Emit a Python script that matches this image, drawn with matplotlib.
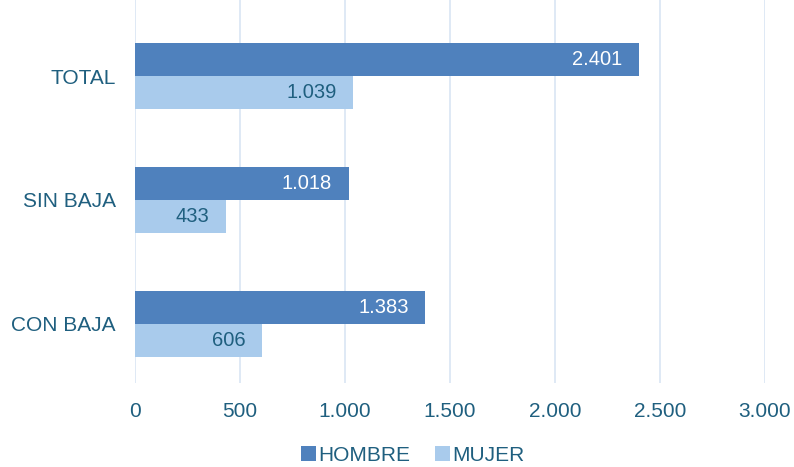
import matplotlib.pyplot as plt
import numpy as np

categories = ["TOTAL", "SIN BAJA", "CON BAJA"]
hombre = [2401, 1018, 1383]
mujer = [1039, 433, 606]
xticks = [0, 500, 1000, 1500, 2000, 2500, 3000]

c_h = "#4F81BD"
c_m = "#A9CBEC"
c_txt = "#1F5F7F"


def fmt(v):
    return f"{v:,}".replace(",", ".")


plt.rcParams['font.family'] = ['Liberation Sans', 'DejaVu Sans']

fig = plt.figure(figsize=(7.94, 4.67), dpi=100)
ax = fig.add_axes([135 / 794, 84 / 467, 630 / 794, 383 / 467])

y = np.arange(len(categories))[::-1].astype(float)
h = 0.27
bh = ax.barh(y + h / 2, hombre, height=h, color=c_h, label="HOMBRE", zorder=3)
bm = ax.barh(y - h / 2, mujer, height=h, color=c_m, label="MUJER", zorder=3)

for bar, v in zip(bh, hombre):
    ax.annotate(fmt(v), (v, bar.get_y() + bar.get_height() / 2), xytext=(-12, 0),
                textcoords="offset points", ha="right", va="center",
                color="white", fontsize=14.5, zorder=4)
for bar, v in zip(bm, mujer):
    ax.annotate(fmt(v), (v, bar.get_y() + bar.get_height() / 2), xytext=(-12, 0),
                textcoords="offset points", ha="right", va="center",
                color=c_txt, fontsize=14.5, zorder=4)

ax.set_xlim(0, 3000)
ax.set_ylim(-0.476, 2.613)
ax.set_xticks(xticks)
ax.set_xticklabels([fmt(v) for v in xticks])
ax.set_yticks(y)
ax.set_yticklabels(categories)
ax.tick_params(axis="both", length=0, colors=c_txt, labelsize=15)
ax.tick_params(axis="y", pad=14)
ax.tick_params(axis="x", pad=14)
ax.grid(axis="x", color="#D9E5F3", linewidth=1.2, zorder=0)
for s in ax.spines.values():
    s.set_visible(False)

fig.legend(loc="lower center", bbox_to_anchor=(0.52, -0.035), ncol=2, frameon=False,
           fontsize=15, labelcolor=c_txt, handlelength=0.7, handleheight=0.7,
           handletextpad=0.12, columnspacing=1.2)

fig.savefig("out.png", dpi=100)
